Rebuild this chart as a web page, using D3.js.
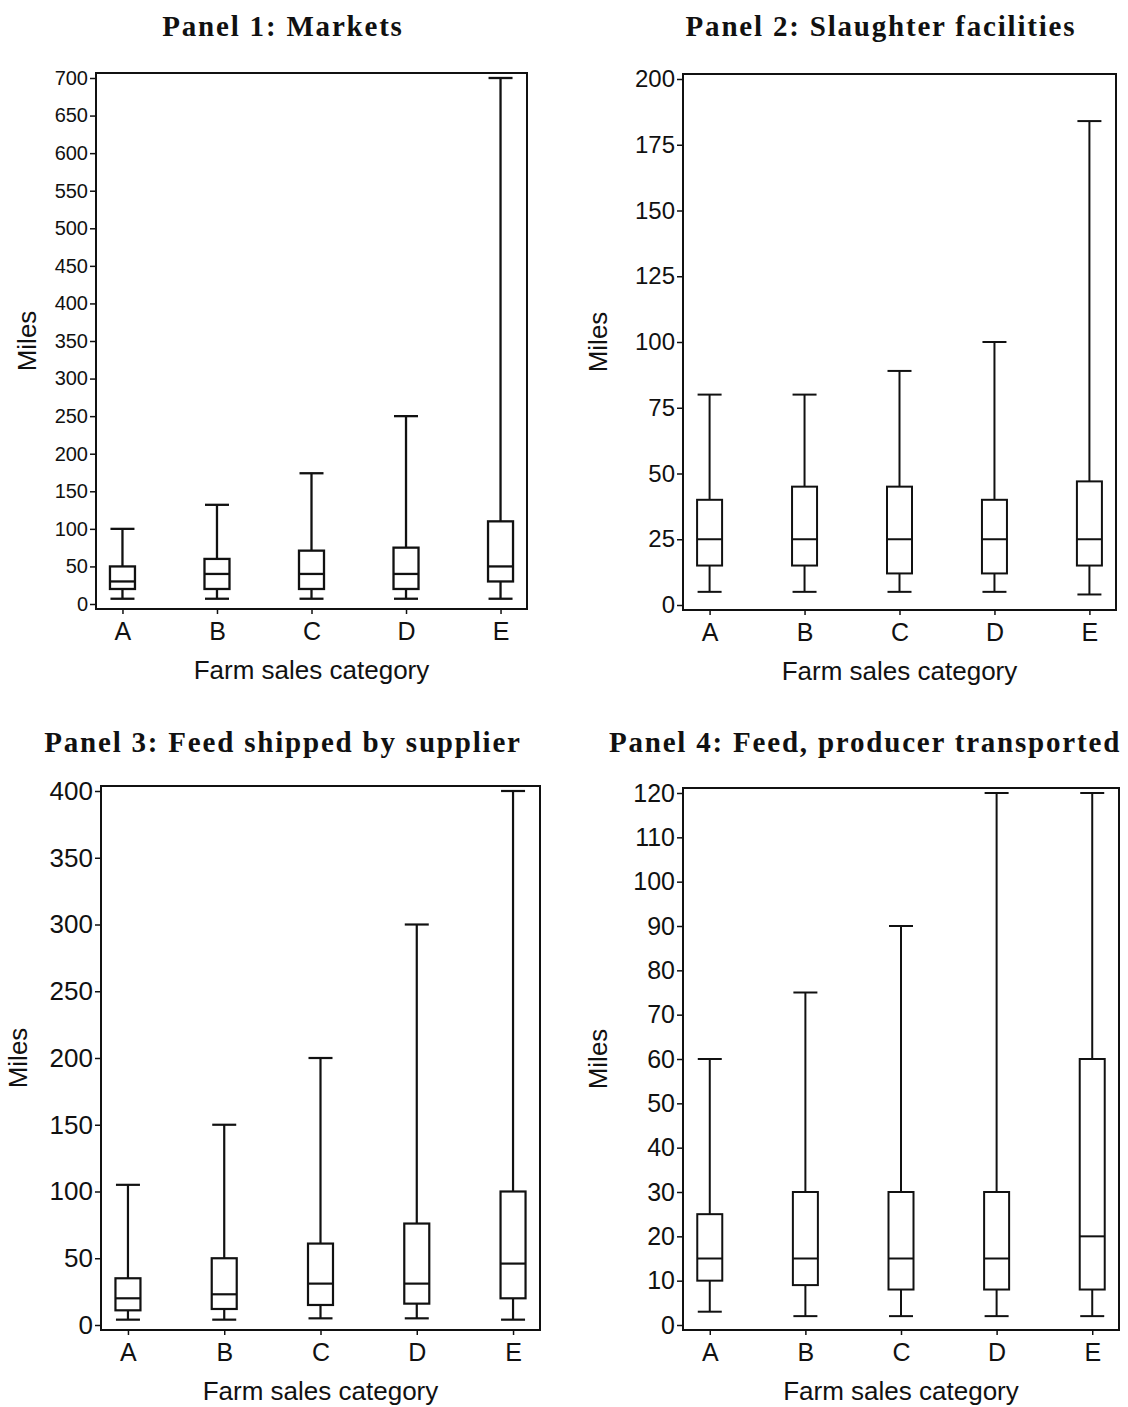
<!DOCTYPE html>
<html>
<head>
<meta charset="utf-8">
<script src="https://cdn.jsdelivr.net/npm/d3@7"></script>
<style>
  body { margin: 0; background: #fff; }
  svg text { fill: #111; }
</style>
</head>
<body>
<svg id="chart" width="1128" height="1407"></svg>
<script>
// categories de ventes
const categories = ["A", "B", "C", "D", "E"];

// Panel 1 : marchés
const p1Low = [7, 7, 7, 7, 7];
const p1Q1 = [20, 20, 20, 20, 30];
const p1Median = [30, 40, 40, 40, 50];
const p1Q3 = [50, 60, 71, 75, 110];
const p1High = [100, 132, 174, 250, 700];
const p1Ticks = [0, 50, 100, 150, 200, 250, 300, 350, 400, 450, 500, 550, 600, 650, 700];

// Panel 2 : abattoirs
const p2Low = [5, 5, 5, 5, 4];
const p2Q1 = [15, 15, 12, 12, 15];
const p2Median = [25, 25, 25, 25, 25];
const p2Q3 = [40, 45, 45, 40, 47];
const p2High = [80, 80, 89, 100, 184];
const p2Ticks = [0, 25, 50, 75, 100, 125, 150, 175, 200];

// Panel 3 : aliments livrés par le fournisseur
const p3Low = [4, 4, 5, 5, 4];
const p3Q1 = [11, 12, 15, 16, 20];
const p3Median = [20, 23, 31, 31, 46];
const p3Q3 = [35, 50, 61, 76, 100];
const p3High = [105, 150, 200, 300, 400];
const p3Ticks = [0, 50, 100, 150, 200, 250, 300, 350, 400];

// Panel 4 : aliments transportés par le producteur
const p4Low = [3, 2, 2, 2, 2];
const p4Q1 = [10, 9, 8, 8, 8];
const p4Median = [15, 15, 15, 15, 20];
const p4Q3 = [25, 30, 30, 30, 60];
const p4High = [60, 75, 90, 120, 120];
const p4Ticks = [0, 10, 20, 30, 40, 50, 60, 70, 80, 90, 100, 110, 120];

const panels = [
  { title: "Panel 1: Markets", titleX: 283, titleY: 36,
    left: 96, top: 73, right: 527, bottom: 609, max: 700, ticks: p1Ticks, tickFont: 20, milesX: 27, sw: 2.3,
    low: p1Low, q1: p1Q1, med: p1Median, q3: p1Q3, high: p1High },
  { title: "Panel 2: Slaughter facilities", titleX: 881, titleY: 36,
    left: 683, top: 74, right: 1116, bottom: 610, max: 200, ticks: p2Ticks, tickFont: 24, milesX: 598, sw: 2,
    low: p2Low, q1: p2Q1, med: p2Median, q3: p2Q3, high: p2High },
  { title: "Panel 3: Feed shipped by supplier", titleX: 283, titleY: 752,
    left: 101, top: 786, right: 540, bottom: 1330, max: 400, ticks: p3Ticks, tickFont: 26, milesX: 18, sw: 2.2,
    low: p3Low, q1: p3Q1, med: p3Median, q3: p3Q3, high: p3High },
  { title: "Panel 4: Feed, producer transported", titleX: 865, titleY: 752,
    left: 683, top: 788, right: 1119, bottom: 1330, max: 120, ticks: p4Ticks, tickFont: 25, milesX: 598, sw: 2,
    low: p4Low, q1: p4Q1, med: p4Median, q3: p4Q3, high: p4High }
];

const svg = d3.select("#chart");
const boxW = 25, capW = 24;
const sans = "'Liberation Sans', Arial, sans-serif";

panels.forEach(function(p) {
  const g = svg.append("g");

  const x = d3.scalePoint().domain(categories).range([p.left, p.right]).padding(0.28);
  const y = d3.scaleLinear().domain([0, p.max]).range([p.bottom - 5, p.top + 5]);

  // titre
  g.append("text")
    .attr("x", p.titleX).attr("y", p.titleY)
    .attr("text-anchor", "middle")
    .style("font-family", "'Liberation Serif', 'Times New Roman', serif")
    .style("font-weight", "bold")
    .style("font-size", "29px")
    .style("letter-spacing", "1.8px")
    .text(p.title);

  // cadre
  g.append("rect")
    .attr("x", p.left).attr("y", p.top)
    .attr("width", p.right - p.left).attr("height", p.bottom - p.top)
    .attr("fill", "none").attr("stroke", "#111").attr("stroke-width", 2);

  // axe Y
  const yAxis = g.append("g")
    .attr("transform", "translate(" + p.left + ",0)")
    .call(d3.axisLeft(y).tickValues(p.ticks).tickSize(6).tickPadding(2).tickFormat(d3.format("d")));
  yAxis.select(".domain").remove();
  yAxis.selectAll("line").attr("stroke", "#111").attr("stroke-width", 1.5);
  yAxis.selectAll("text")
    .style("font-family", sans)
    .style("font-size", p.tickFont + "px")
    .attr("fill", "#111");

  // axe X
  const xAxis = g.append("g")
    .attr("transform", "translate(0," + p.bottom + ")")
    .call(d3.axisBottom(x).tickSize(5).tickPadding(8));
  xAxis.select(".domain").remove();
  xAxis.selectAll("line").attr("stroke", "#111").attr("stroke-width", 1.5);
  xAxis.selectAll("text")
    .style("font-family", sans)
    .style("font-size", "25px")
    .attr("fill", "#111");

  // titres des axes
  g.append("text")
    .attr("x", (p.left + p.right) / 2).attr("y", p.bottom + 70)
    .attr("text-anchor", "middle")
    .style("font-family", sans)
    .style("font-size", "26px")
    .text("Farm sales category");

  g.append("text")
    .attr("transform", "translate(" + (p.milesX + 9) + "," + ((p.top + p.bottom) / 2) + ") rotate(-90)")
    .attr("text-anchor", "middle")
    .style("font-family", sans)
    .style("font-size", "26px")
    .text("Miles");

  // boîtes à moustaches
  const boxes = g.selectAll(".box")
    .data(categories.map(function(c, i) {
      return { cat: c, low: p.low[i], q1: p.q1[i], med: p.med[i], q3: p.q3[i], high: p.high[i] };
    }))
    .enter().append("g")
    .attr("class", "box")
    .attr("stroke", "#111")
    .attr("stroke-width", p.sw)
    .attr("fill", "none");

  // moustache haute et basse
  boxes.append("line")
    .attr("x1", d => x(d.cat)).attr("x2", d => x(d.cat))
    .attr("y1", d => y(d.q3)).attr("y2", d => y(d.high));
  boxes.append("line")
    .attr("x1", d => x(d.cat)).attr("x2", d => x(d.cat))
    .attr("y1", d => y(d.low)).attr("y2", d => y(d.q1));
  boxes.append("line")
    .attr("x1", d => x(d.cat) - capW / 2).attr("x2", d => x(d.cat) + capW / 2)
    .attr("y1", d => y(d.high)).attr("y2", d => y(d.high));
  boxes.append("line")
    .attr("x1", d => x(d.cat) - capW / 2).attr("x2", d => x(d.cat) + capW / 2)
    .attr("y1", d => y(d.low)).attr("y2", d => y(d.low));

  // boîte
  boxes.append("rect")
    .attr("x", d => x(d.cat) - boxW / 2)
    .attr("width", boxW)
    .attr("y", d => y(d.q3))
    .attr("height", d => y(d.q1) - y(d.q3))
    .attr("fill", "#fff");

  // médiane
  boxes.append("line")
    .attr("x1", d => x(d.cat) - boxW / 2).attr("x2", d => x(d.cat) + boxW / 2)
    .attr("y1", d => y(d.med)).attr("y2", d => y(d.med));
});
</script>
</body>
</html>
